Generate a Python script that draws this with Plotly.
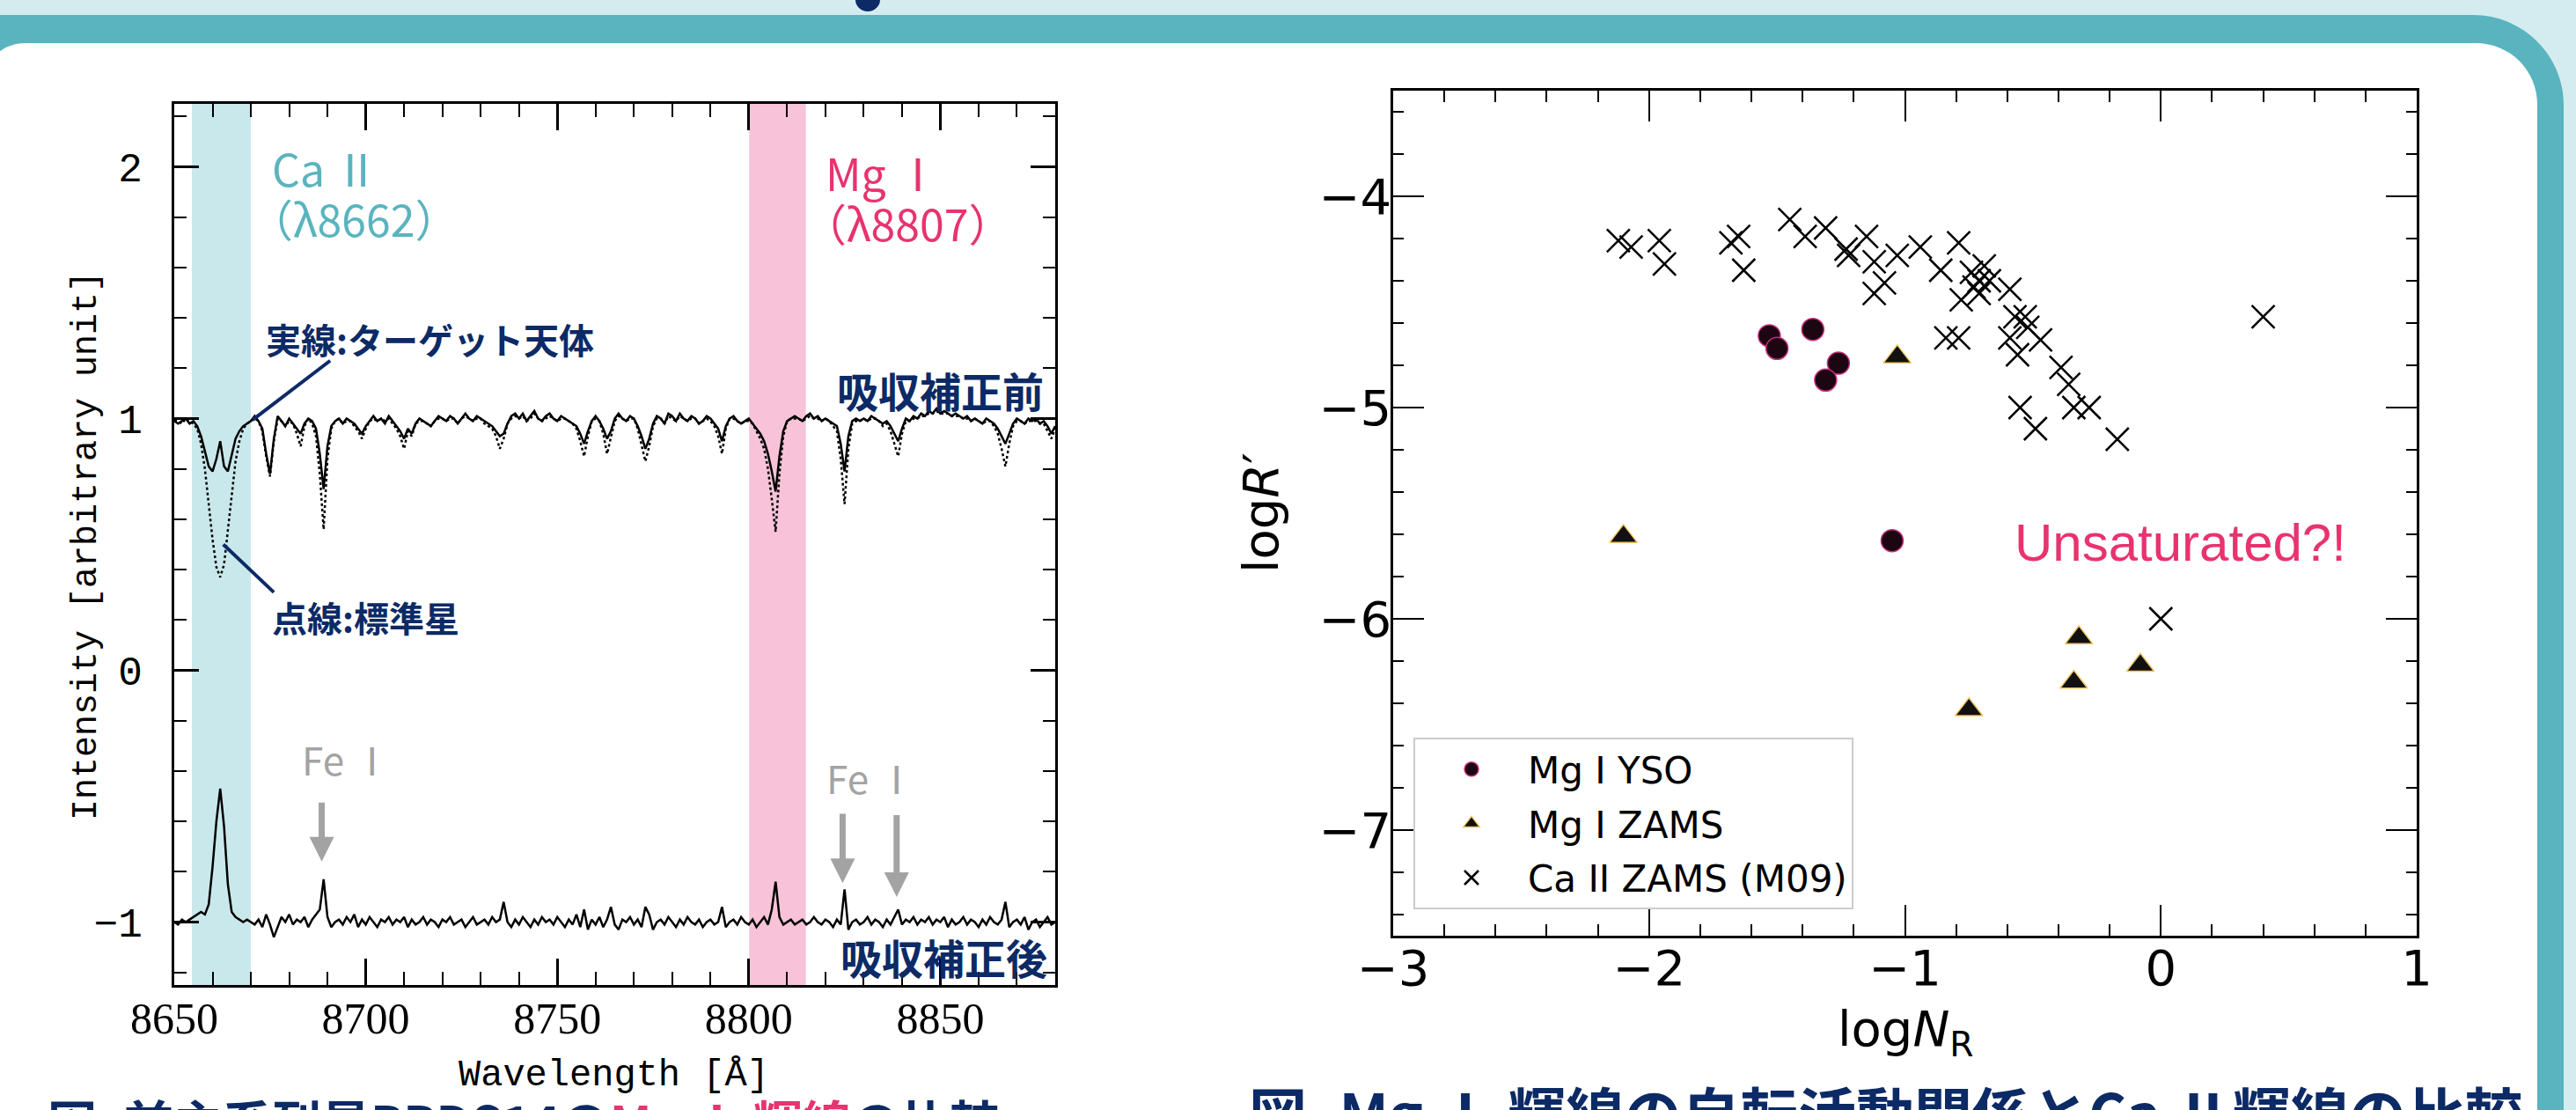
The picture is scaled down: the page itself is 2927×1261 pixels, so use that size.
import plotly.graph_objects as go

W, H = 2927, 1261

# ---------------- data: left panel (spectra) ----------------
wavelength = list(range(8650, 8881))  # 1 A sampling grid

target_before = [
    0.99, 0.98, 0.99, 1.00, 0.98, 0.99, 0.97, 0.93, 0.87, 0.81,
    0.79, 0.84, 0.91, 0.81, 0.79, 0.86, 0.92, 0.95, 0.97, 0.98,
    0.99, 1.01, 0.99, 0.96, 0.86, 0.78, 0.92, 1.01, 0.99, 0.97,
    1.00, 0.98, 0.96, 0.94, 0.98, 1.00, 0.99, 0.96, 0.86, 0.72,
    0.89, 0.97, 0.99, 1.00, 0.98, 1.00, 0.99, 0.98, 0.96, 0.94,
    0.97, 0.99, 1.01, 0.99, 1.00, 0.98, 1.01, 0.99, 0.97, 0.95,
    0.92, 0.96, 0.94, 0.98, 1.00, 0.99, 0.98, 0.97, 0.99, 1.01,
    1.00, 0.99, 1.01, 1.00, 0.98, 1.00, 1.02, 1.00, 0.99, 1.01,
    1.00, 0.99, 0.98, 0.97, 0.95, 0.93, 0.94, 0.98, 1.01, 1.02,
    1.00, 1.02, 0.99, 1.01, 1.03, 1.00, 0.99, 1.01, 1.02, 1.00,
    0.99, 1.01, 1.00, 0.99, 0.98, 0.97, 0.94, 0.90, 0.95, 0.99,
    1.01, 0.99, 0.96, 0.92, 0.95, 1.00, 1.02, 1.00, 0.99, 1.01,
    1.00, 0.97, 0.93, 0.88, 0.92, 0.98, 1.01, 1.00, 0.98, 1.02,
    1.01, 0.99, 1.02, 1.00, 0.99, 1.01, 1.00, 0.98, 0.99, 1.01,
    1.00, 0.98, 0.96, 0.91, 0.97, 1.00, 1.01, 0.99, 0.98, 0.99,
    1.00, 0.98, 0.96, 0.94, 0.91, 0.86, 0.79, 0.71, 0.85, 0.95,
    0.99, 1.00, 1.01, 1.00, 0.99, 1.01, 1.02, 1.00, 1.01, 0.99,
    1.00, 0.99, 0.98, 0.97, 0.90, 0.79, 0.93, 0.99, 1.00, 0.99,
    1.00, 0.99, 1.01, 1.00, 0.99, 0.98, 0.99, 0.97, 0.94, 0.91,
    0.96, 1.00, 0.99, 1.01, 1.00, 1.02, 1.01, 1.03, 1.02, 1.04,
    1.02, 1.03, 1.02, 1.01, 1.02, 1.01, 1.00, 1.01, 0.99, 1.00,
    0.99, 0.98, 1.00, 0.99, 0.98, 0.96, 0.93, 0.90, 0.94, 0.98,
    1.00, 0.99, 0.98, 1.00, 0.99, 1.00, 0.98, 0.99, 0.97, 0.94,
    0.97,
]

standard_before = [
    0.99, 0.99, 0.98, 1.00, 0.99, 0.98, 0.96, 0.90, 0.80, 0.66,
    0.52, 0.41, 0.37, 0.42, 0.55, 0.70, 0.83, 0.91, 0.96, 0.98,
    0.99, 1.00, 0.99, 0.95, 0.85, 0.77, 0.91, 1.00, 0.99, 0.97,
    0.99, 0.98, 0.94, 0.89, 0.97, 1.00, 0.98, 0.93, 0.78, 0.56,
    0.84, 0.96, 0.99, 1.00, 0.98, 0.99, 0.99, 0.97, 0.95, 0.92,
    0.96, 0.99, 1.00, 0.99, 1.00, 0.99, 1.00, 0.98, 0.96, 0.93,
    0.88, 0.95, 0.93, 0.98, 0.99, 0.99, 0.98, 0.97, 0.99, 1.00,
    1.00, 0.99, 1.00, 1.00, 0.98, 1.00, 1.01, 1.00, 0.99, 1.00,
    1.00, 0.98, 0.97, 0.96, 0.93, 0.88, 0.92, 0.98, 1.00, 1.01,
    1.00, 1.01, 0.99, 1.00, 1.02, 1.00, 0.99, 1.00, 1.01, 1.00,
    0.99, 1.00, 1.00, 0.99, 0.98, 0.96, 0.91, 0.85, 0.93, 0.99,
    1.00, 0.99, 0.94, 0.86, 0.93, 0.99, 1.01, 1.00, 0.99, 1.00,
    1.00, 0.96, 0.90, 0.83, 0.89, 0.97, 1.00, 1.00, 0.98, 1.01,
    1.00, 0.99, 1.01, 1.00, 0.99, 1.00, 1.00, 0.98, 0.99, 1.00,
    0.99, 0.97, 0.93, 0.86, 0.96, 1.00, 1.00, 0.99, 0.98, 0.99,
    0.99, 0.98, 0.95, 0.92, 0.88, 0.80, 0.68, 0.55, 0.78, 0.93,
    0.99, 1.00, 1.00, 1.00, 0.99, 1.00, 1.01, 1.00, 1.00, 0.99,
    1.00, 0.99, 0.97, 0.95, 0.84, 0.66, 0.88, 0.98, 0.99, 0.99,
    1.00, 0.99, 1.00, 1.00, 0.99, 0.97, 0.98, 0.95, 0.90, 0.85,
    0.94, 0.99, 0.99, 1.00, 1.00, 1.01, 1.01, 1.02, 1.02, 1.03,
    1.02, 1.02, 1.02, 1.01, 1.01, 1.01, 1.00, 1.00, 0.99, 1.00,
    0.99, 0.98, 0.99, 0.99, 0.97, 0.94, 0.88, 0.81, 0.90, 0.97,
    0.99, 0.99, 0.98, 0.99, 0.99, 0.99, 0.98, 0.98, 0.95, 0.92,
    0.96,
]

target_after = [
    -1.00, -1.01, -0.99, -1.00, -0.99, -0.98, -0.97, -0.96, -0.97, -0.93,
    -0.78, -0.60, -0.47, -0.62, -0.85, -0.96, -0.98, -0.99, -1.00, -0.99,
    -1.00, -1.01, -0.99, -1.02, -0.97, -1.01, -1.06, -1.02, -0.98, -1.00,
    -0.97, -1.01, -0.99, -1.00, -0.98, -1.02, -0.99, -0.97, -0.95, -0.83,
    -0.98, -1.02, -1.00, -0.99, -1.01, -0.98, -1.00, -0.97, -1.02, -0.99,
    -1.01, -0.98, -1.00, -1.02, -0.99, -1.00, -0.98, -1.01, -0.99, -1.00,
    -0.98, -1.02, -0.99, -1.01, -1.00, -0.98, -1.01, -0.99, -1.00, -1.02,
    -0.99, -1.00, -0.98, -1.01, -1.00, -0.99, -1.02, -1.00, -0.98, -1.01,
    -1.00, -0.99, -1.01, -0.98, -1.00, -0.99, -0.92, -1.00, -1.02, -0.99,
    -1.01, -0.98, -1.00, -1.02, -0.99, -1.01, -0.98, -1.00, -0.99, -1.01,
    -0.98, -1.00, -1.02, -0.99, -1.01, -0.97, -1.02, -0.95, -1.03, -0.99,
    -1.01, -0.98, -1.02, -0.99, -0.94, -1.01, -1.03, -0.99, -1.00, -0.98,
    -1.01, -0.99, -1.02, -0.94, -0.97, -1.03, -1.00, -0.99, -1.01, -0.98,
    -1.00, -1.02, -0.99, -1.01, -0.98, -1.00, -1.01, -0.99, -1.02, -1.00,
    -0.99, -1.01, -1.00, -0.94, -1.02, -1.00, -0.99, -1.01, -0.98, -1.00,
    -1.01, -0.99, -1.02, -1.00, -0.98, -1.01, -0.95, -0.84, -0.98, -1.01,
    -1.00, -0.99, -1.01, -1.00, -0.99, -1.01, -1.00, -0.98, -1.00, -1.01,
    -0.99, -1.00, -1.02, -0.99, -1.01, -0.87, -1.03, -1.00, -0.99, -1.01,
    -1.00, -0.98, -1.01, -0.99, -1.00, -1.02, -0.99, -1.01, -0.98, -0.95,
    -1.01, -0.99, -1.00, -0.98, -1.01, -0.99, -1.00, -0.98, -1.01, -0.99,
    -1.00, -0.98, -1.02, -0.99, -1.01, -1.00, -0.98, -1.01, -0.99, -1.00,
    -1.02, -0.99, -1.01, -0.98, -1.00, -1.01, -0.99, -0.92, -1.02, -1.00,
    -0.99, -1.01, -0.98, -1.03, -1.00, -0.99, -1.02, -1.00, -0.98, -1.01,
    -1.00,
]

spec_xticks = [8650, 8700, 8750, 8800, 8850]
spec_yticks = [-1, 0, 1, 2]
ca_band = [8654.6, 8670.0]
mg_band = [8800.1, 8814.9]

# ---------------- data: right panel (scatter) ----------------
mg_yso_x = [-1.53, -1.50, -1.36, -1.26, -1.31, -1.05]
mg_yso_y = [-4.66, -4.72, -4.63, -4.79, -4.87, -5.63]

mg_zams_x = [-1.03, -2.10, -0.32, -0.34, -0.08, -0.75]
mg_zams_y = [-4.76, -5.61, -6.09, -6.30, -6.22, -6.43]

ca_zams_x = [-2.12, -2.07, -1.96, -1.94, -1.68, -1.65, -1.63, -1.45, -1.39, -1.31,
             -1.23, -1.22, -1.15, -1.12, -1.12, -1.08, -1.03, -0.94, -0.86, -0.79,
             -0.74, -0.71, -0.69, -0.67, -0.71, -0.78, -0.73, -0.59, -0.57, -0.53,
             -0.59, -0.52, -0.56, -0.47, -0.84, -0.79, -0.39, -0.36, -0.34, -0.28,
             -0.55, -0.49, -0.17, 0.40, 0.00]
ca_zams_y = [-4.21, -4.24, -4.21, -4.32, -4.22, -4.19, -4.35, -4.11, -4.19, -4.15,
             -4.25, -4.28, -4.19, -4.31, -4.46, -4.41, -4.28, -4.24, -4.35, -4.22,
             -4.36, -4.40, -4.33, -4.40, -4.46, -4.49, -4.43, -4.44, -4.57, -4.57,
             -4.67, -4.62, -4.75, -4.68, -4.67, -4.67, -4.81, -4.89, -5.00, -5.00,
             -5.00, -5.10, -5.15, -4.57, -6.00]

# ---------------- styles ----------------
JP = "Noto Sans CJK JP"
MONO = "Liberation Mono, DejaVu Sans Mono, monospace"
SERIF = "Liberation Serif, serif"
SANS = "Liberation Sans, Arial, sans-serif"
DV = "DejaVu Sans, sans-serif"
NAVY = "#0c2a66"
TEAL = "#5ab4bf"
PINK = "#e8336e"
GRAY = "#a3a3a3"


def px(x):
    return x / W


def py(y):
    return 1 - y / H


def P(x, y):
    return f"{px(x):.5f},{py(y):.5f}"


fig = go.Figure()

# spectra
fig.add_trace(go.Scatter(x=wavelength, y=standard_before, mode="lines",
                         line=dict(color="black", width=2.5, dash="dot"),
                         showlegend=False, xaxis="x", yaxis="y"))
fig.add_trace(go.Scatter(x=wavelength, y=target_before, mode="lines",
                         line=dict(color="black", width=2.5),
                         showlegend=False, xaxis="x", yaxis="y"))
fig.add_trace(go.Scatter(x=wavelength, y=target_after, mode="lines",
                         line=dict(color="black", width=2.5),
                         showlegend=False, xaxis="x", yaxis="y"))

# scatter
fig.add_trace(go.Scatter(x=mg_yso_x, y=mg_yso_y, mode="markers", name="Mg I YSO",
                         legendgroup="a",
                         marker=dict(symbol="circle", size=25, color="#1c0612",
                                     line=dict(color="#c8307c", width=1.5)),
                         xaxis="x2", yaxis="y2"))
fig.add_trace(go.Scatter(x=mg_zams_x, y=mg_zams_y, mode="markers", name="Mg I ZAMS",
                         legendgroup="b",
                         marker=dict(symbol="triangle-up", size=27, color="#111111",
                                     line=dict(color="#f2c463", width=1.5)),
                         xaxis="x2", yaxis="y2"))
fig.add_trace(go.Scatter(x=ca_zams_x, y=ca_zams_y, mode="markers", name="Ca II ZAMS (M09)",
                         legendgroup="c",
                         marker=dict(symbol="x-thin-open", size=26, color="black",
                                     line=dict(color="black", width=2.5)),
                         xaxis="x2", yaxis="y2"))

shapes = []
# background frame
shapes.append(dict(type="path", xref="paper", yref="paper", layer="below",
                   path=(f"M{P(-20,17)} L{P(2810,17)} C{P(2867,17)} {P(2913,63)} {P(2913,120)} "
                         f"L{P(2913,1300)} L{P(-20,1300)} Z"),
                   fillcolor=TEAL, line=dict(width=0)))
shapes.append(dict(type="path", xref="paper", yref="paper", layer="below",
                   path=(f"M{P(-10,1300)} L{P(-10,80)} C{P(-10,60)} {P(8,49)} {P(30,49)} "
                         f"L{P(2813,49)} C{P(2852,49)} {P(2883,80)} {P(2883,119)} "
                         f"L{P(2883,1300)} Z"),
                   fillcolor="white", line=dict(width=0)))
# fragment of the title above (cut off)
shapes.append(dict(type="circle", xref="paper", yref="paper", layer="below",
                   x0=px(972), x1=px(1000), y0=py(13), y1=py(-14),
                   fillcolor=NAVY, line=dict(width=0)))

# shaded bands
shapes.append(dict(type="rect", xref="x", yref="y domain", layer="below",
                   x0=ca_band[0], x1=ca_band[1], y0=0, y1=1,
                   fillcolor="#c9e8eb", line=dict(width=0)))
shapes.append(dict(type="rect", xref="x", yref="y domain", layer="below",
                   x0=mg_band[0], x1=mg_band[1], y0=0, y1=1,
                   fillcolor="#f8c3d8", line=dict(width=0)))
# leader lines
shapes.append(dict(type="line", xref="x", yref="y", x0=8690.7, y0=1.23, x1=8670.5, y1=0.995,
                   line=dict(color=NAVY, width=4)))
shapes.append(dict(type="line", xref="x", yref="y", x0=8662.8, y0=0.50, x1=8676.0, y1=0.31,
                   line=dict(color=NAVY, width=4)))

ann = []


def t(x, y, text, size, color, xanchor="left", font=JP, xref="x", yref="y", angle=0):
    ann.append(dict(x=x, y=y, xref=xref, yref=yref, text=text, showarrow=False,
                    xanchor=xanchor, yanchor="middle", textangle=angle,
                    font=dict(family=font, size=size, color=color)))


t(8675.0, 2.0, "Ca Ⅱ", 50, TEAL)
t(8669.0, 1.80, "（λ8662）", 50, TEAL)
t(8819.5, 1.98, "Mg Ⅰ", 50, PINK)
t(8813.5, 1.78, "（λ8807）", 50, PINK)
t(8673.5, 1.315, "<b>実線:ターゲット天体</b>", 40, NAVY)
t(8675.0, 0.213, "<b>点線:標準星</b>", 40, NAVY)
t(8877.5, 1.115, "<b>吸収補正前</b>", 47, NAVY, xanchor="right")
t(8878.5, -1.135, "<b>吸収補正後</b>", 47, NAVY, xanchor="right")
t(8695.0, -0.35, "Fe Ⅰ", 44, GRAY, xanchor="center")
t(8832.0, -0.425, "Fe Ⅰ", 44, GRAY, xanchor="center")

for (xa, y0, y1) in [(8688.5, -0.52, -0.76), (8824.5, -0.565, -0.845), (8838.6, -0.57, -0.90)]:
    ann.append(dict(x=xa, y=y1, ax=xa, ay=y0, xref="x", yref="y", axref="x", ayref="y",
                    text="", showarrow=True, arrowhead=2, arrowsize=0.8, arrowwidth=7,
                    arrowcolor=GRAY))

# axis titles
t(px(98), py(620), "Intensity [arbitrary unit]", 40, "black", xanchor="center",
  font=MONO, xref="paper", yref="paper", angle=-90)
t(px(697), py(1222), "Wavelength [Å]", 42, "black", xanchor="center",
  font=MONO, xref="paper", yref="paper")
t(px(1432), py(583), "log<i>R</i>′", 56, "black", xanchor="center",
  font=DV, xref="paper", yref="paper", angle=-90)
t(px(2165), py(1172), "log<i>N</i><sub>R</sub>", 56, "black", xanchor="center",
  font=DV, xref="paper", yref="paper")

# Unsaturated
t(0.075, -5.64, "Unsaturated?!", 60, PINK, xanchor="center", font=SANS, xref="x2", yref="y2")

# captions (mostly cut off at the bottom edge)
t(px(2142), py(1262), "<b>図. Mg Ⅰ 輝線の自転活動関係とCa Ⅱ輝線の比較</b>", 66, NAVY,
  xanchor="center", xref="paper", yref="paper")
t(px(52), py(1272), "<b>図. 前主系列星PPDS14の<span style='color:#e8336e'>Mg Ⅰ 輝線</span>の比較</b>",
  56, NAVY, xanchor="left", xref="paper", yref="paper")

axis_common = dict(showline=True, linecolor="black", mirror="allticks", ticks="inside",
                   tickcolor="black", showgrid=False, zeroline=False, automargin=False)

fig.update_layout(
    template="none",
    width=W, height=H, margin=dict(l=0, r=0, t=0, b=0, pad=0, autoexpand=False),
    paper_bgcolor="#d4ecef", plot_bgcolor="rgba(0,0,0,0)",
    font=dict(family=JP, color="black"),
    shapes=shapes, annotations=ann,
    xaxis=dict(domain=[px(198), px(1199)], range=[8650, 8880], anchor="y",
               tickvals=spec_xticks, ticklen=30, tickwidth=2.5, linewidth=3,
               tickfont=dict(family=SERIF, size=50), ticklabelstandoff=-8,
               minor=dict(dtick=10, tick0=8650, ticklen=15, tickwidth=2, ticks="inside",
                          tickcolor="black"),
               **axis_common),
    yaxis=dict(domain=[py(1119), py(118)], range=[-1.25, 2.25], anchor="x",
               tickvals=spec_yticks, ticklen=28, tickwidth=2.5, linewidth=3,
               tickfont=dict(family=MONO, size=46), ticklabelstandoff=24,
               minor=dict(dtick=0.2, tick0=0, ticklen=14, tickwidth=2, ticks="inside",
                          tickcolor="black"),
               **axis_common),
    xaxis2=dict(domain=[px(1583), px(2746)], range=[-3, 1], anchor="y2",
                dtick=1, tick0=0, ticklen=35, tickwidth=2, linewidth=2.5,
                tickfont=dict(family=DV, size=56), ticklabelstandoff=-14,
                minor=dict(dtick=0.2, tick0=0, ticklen=13, tickwidth=1.5, ticks="inside",
                           tickcolor="black"),
                **axis_common),
    yaxis2=dict(domain=[py(1063), py(103)], range=[-7.5, -3.5], anchor="x2",
                dtick=1, tick0=0, ticklen=35, tickwidth=2, linewidth=2.5,
                tickfont=dict(family=DV, size=56), ticklabelstandoff=-12,
                minor=dict(dtick=0.2, tick0=0, ticklen=12, tickwidth=1.5, ticks="inside",
                           tickcolor="black"),
                **axis_common),
    legend=dict(x=px(1606), y=py(838), xanchor="left", yanchor="top",
                bgcolor="white", bordercolor="#cccccc", borderwidth=2,
                font=dict(family=DV, size=42, color="black"),
                itemsizing="trace", tracegroupgap=4, itemwidth=118),
)

fig.write_html("out.html", config={"displayModeBar": False},
               post_script="document.body.style.margin='0';document.body.style.overflow='hidden';")
